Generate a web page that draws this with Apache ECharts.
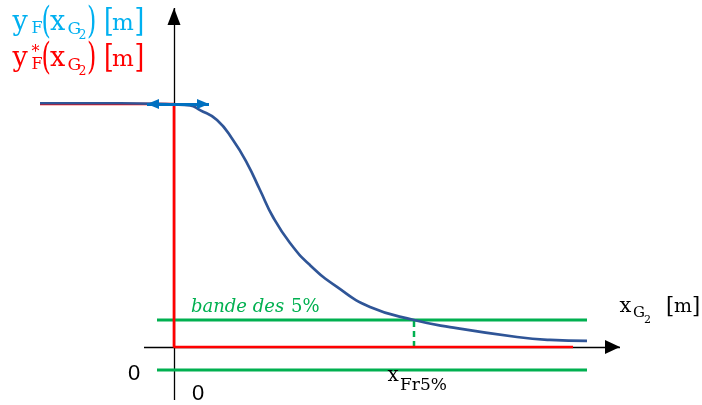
<!DOCTYPE html>
<html><head><meta charset="utf-8">
<script src="https://cdn.jsdelivr.net/npm/echarts@6/dist/echarts.min.js"></script>
<style>html,body{margin:0;padding:0;background:#fff}#main{width:702px;height:405px}</style>
</head><body><div id="main"></div>
<script>
// ---- data (units: x in abscissa units, y so that the step height is 10) ----
// reference step y*F(xG2)
const stepX = [-3.35, 0, 0, 9.975];
const stepY = [10, 10, 0, 0];
// response yF(xG2)
const curveX = [-3.35, -1.35, 0, 0.4, 0.65, 1.075, 1.475, 1.825, 2.15, 2.475, 2.9, 3.4, 4.075, 4.9, 6.0, 6.9, 8.575, 9.4, 10.325];
const curveY = [10.03, 10.03, 9.98, 9.94, 9.75, 9.34, 8.52, 7.57, 6.46, 5.35, 4.28, 3.37, 2.47, 1.65, 1.11, 0.82, 0.41, 0.29, 0.25];
// 5% band
const bandUpper = 1.11;
const bandLower = -0.947;
const bandX = [-0.425, 10.325];
const xFr5 = 6.0;
// axes extents
const xAxisExtent = [-0.75, 11.15];
const yAxisExtent = [-2.18, 13.95];
// horizontal tangent double arrow at origin
const tangentX = [-0.675, 0.875];
const tangentY = 10;
// tick labels
const xTickLabel = '0';
const yTickLabel = '0';

const chart = echarts.init(document.getElementById('main'));
const zip = (xs, ys) => xs.map((x, i) => [x, ys[i]]);
const SERIF = '"DejaVu Serif", serif';
const SANS = '"Liberation Sans", sans-serif';

function t(text, x, baseline, size, color, o) {
  o = o || {};
  const fam = o.family || SERIF;
  const y = o.mid !== undefined ? o.mid : baseline - 0.3 * size;
  return { type: 'text', x: x, y: y, scaleY: o.scaleY || 1, silent: true, z: 100,
    style: { text: text, fill: color, font: (o.italic ? 'italic ' : '') + size + 'px ' + fam,
             align: 'left', verticalAlign: 'middle' } };
}

function labelLine(color, dy, star) {
  const els = [
    t('y', 12.5, 31 + dy, 27, color),
    t('F', 31.5, 34 + dy, 16, color),
    t('(', 41.5, 0, 24, color, { mid: 23.5 + dy, scaleY: 1.55 }),
    t('x', 50, 31 + dy, 27, color),
    t('G', 67.5, 35 + dy, 17, color),
    t('2', 78.5, 39 + dy, 12.5, color),
    t(')', 87, 0, 24, color, { mid: 23.5 + dy, scaleY: 1.55 }),
    t('[', 104, 0, 25, color, { mid: 23 + dy, scaleY: 1.27 }),
    t('m', 112, 31 + dy, 23, color),
    t(']', 134.5, 0, 25, color, { mid: 23 + dy, scaleY: 1.27 })
  ];
  if (star) els.push(t('*', 31.5, 58 + dy - 36, 16, color));
  return els;
}

const arrowLine = (from, to, color, width, size, both, z) => ({
  type: 'line', data: [], silent: true, animation: false, z: z,
  markLine: {
    silent: true, animation: false, z: z,
    symbol: [both ? 'triangle' : 'none', 'triangle'],
    label: { show: false },
    emphasis: { disabled: true },
    lineStyle: { color: color, width: width, type: 'solid' },
    data: [[
      { coord: from, symbol: both ? 'triangle' : 'none', symbolSize: size, symbolOffset: [0, '50%'] },
      { coord: to, symbol: 'triangle', symbolSize: size, symbolOffset: [0, '50%'] }
    ]]
  }
});

const option = {
  animation: false,
  grid: { left: 0, right: 0, top: 0, bottom: 0 },
  xAxis: { type: 'value', min: -4.35, max: 13.2, show: false },
  yAxis: { type: 'value', min: -2.387, max: 14.28, show: false },
  series: [
    arrowLine([xAxisExtent[0], 0], [xAxisExtent[1], 0], '#000', 1.3, [14, 15], false, 1),
    arrowLine([0, yAxisExtent[0]], [0, yAxisExtent[1]], '#000', 1.3, [13, 17], false, 1),
    { type: 'line', z: 3, data: [[bandX[0], bandUpper], [bandX[1], bandUpper]], symbol: 'none', silent: true,
      lineStyle: { color: '#00B050', width: 3 } },
    { type: 'line', z: 3, data: [[bandX[0], bandLower], [bandX[1], bandLower]], symbol: 'none', silent: true,
      lineStyle: { color: '#00B050', width: 3 } },
    { type: 'line', z: 3, data: [[xFr5, 0], [xFr5, bandUpper]], symbol: 'none', silent: true,
      lineStyle: { color: '#00B050', width: 2.5, type: [6, 4] } },
    { type: 'line', z: 4, data: zip(stepX, stepY), symbol: 'none', silent: true,
      lineStyle: { color: '#FF0000', width: 2.7 } },
    { type: 'line', z: 5, data: zip(curveX, curveY), symbol: 'none', silent: true, smooth: 0.5,
      lineStyle: { color: '#2F5597', width: 2.7 } },
    arrowLine([tangentX[0], tangentY], [tangentX[1], tangentY], '#0070C0', 3, [10, 12], true, 10)
  ],
  graphic: { elements: [].concat(
    labelLine('#00B0F0', 0, false),
    labelLine('#FF0000', 36, true),
    [
      t('bande des ', 191, 312.5, 18, '#00B050', { italic: true }),
      t('5%', 291, 312.5, 18, '#00B050'),
      t('x', 619.5, 313, 21, '#000'),
      t('G', 633, 318, 15, '#000'),
      t('2', 644, 323, 11, '#000'),
      t('[', 666, 0, 21, '#000', { mid: 307, scaleY: 1.1 }),
      t('m', 674, 313, 19, '#000'),
      t(']', 692, 0, 21, '#000', { mid: 307, scaleY: 1.1 }),
      t('x', 387.5, 382, 20, '#000'),
      t('Fr5%', 400, 391, 17, '#000'),
      t(yTickLabel, 128, 381, 22, '#000', { family: SANS }),
      t(xTickLabel, 192, 401, 22, '#000', { family: SANS })
    ]) }
};
chart.setOption(option);
</script></body></html>
